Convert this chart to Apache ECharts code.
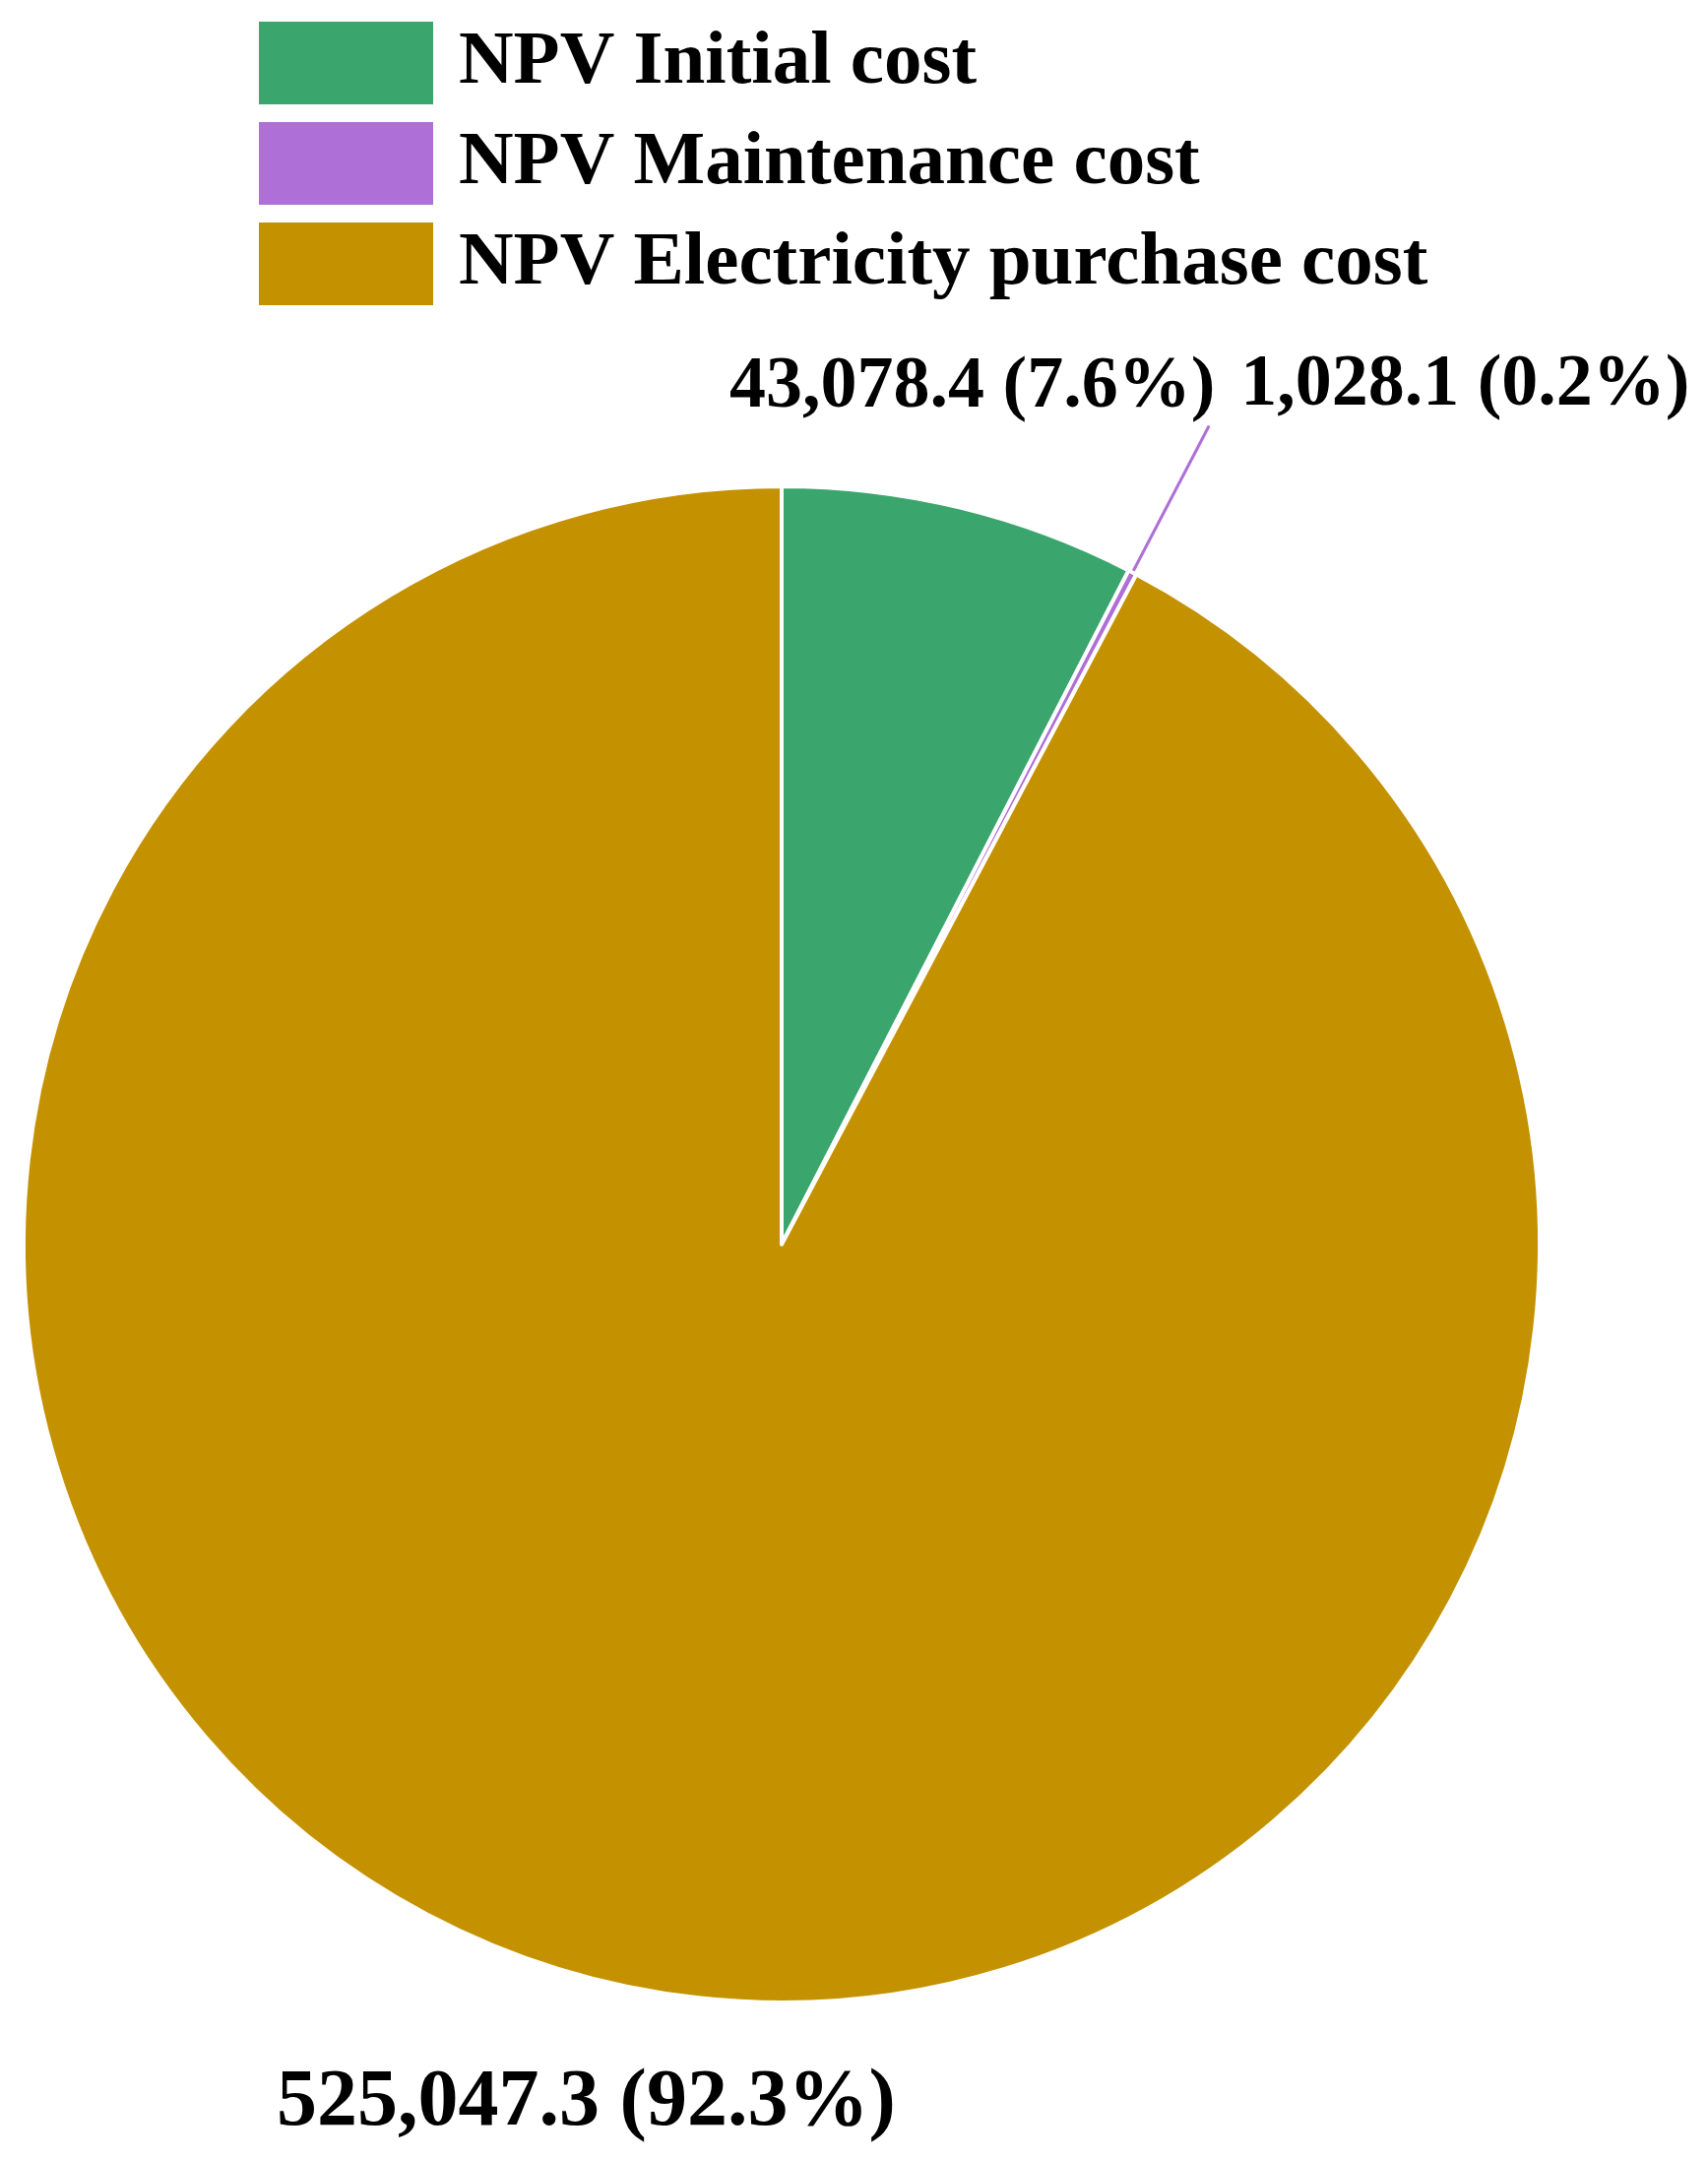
<!DOCTYPE html>
<html>
<head>
<meta charset="utf-8">
<script src="https://cdn.jsdelivr.net/npm/echarts@6/dist/echarts.min.js"></script>
<style>
  html, body { margin: 0; padding: 0; background: #fff; }
  #main { width: 1735px; height: 2193px; }
</style>
</head>
<body>
<div id="main"></div>
<script>
// data
var categories = ['NPV Initial cost', 'NPV Maintenance cost', 'NPV Electricity purchase cost'];
var values = [43078.4, 1028.1, 525047.3];
var colors = ['#3aa66d', '#ae6fd7', '#c49100'];

var total = 0;
for (var i = 0; i < values.length; i++) total += values[i];

// pie geometry (px)
var CX = 794, CY = 1264, R = 768;

function midAngle(idx) {
    var before = 0;
    for (var j = 0; j < idx; j++) before += values[j];
    return (before + values[idx] / 2) / total * 2 * Math.PI;
}

function fmt(v) {
    return v.toLocaleString('en-US', { minimumFractionDigits: 1, maximumFractionDigits: 1 }) +
        ' (' + (v / total * 100).toFixed(1) + '%)';
}

var seriesData = [];
for (var k = 0; k < categories.length; k++) {
    seriesData.push({
        name: categories[k],
        value: values[k],
        itemStyle: { color: colors[k] },
        label: { fontSize: k === 2 ? 82 : 74 },
        labelLine: { show: k === 1, lineStyle: { color: colors[k], width: 3 } }
    });
}

var myChart = echarts.init(document.getElementById('main'));

var option = {
    backgroundColor: '#ffffff',
    animation: false,
    legend: {
        orient: 'vertical',
        left: 258,
        top: 17,
        itemWidth: 177,
        itemHeight: 84,
        itemGap: 18,
        icon: 'rect',
        itemStyle: { borderWidth: 0 },
        textStyle: {
            fontFamily: 'Liberation Serif',
            fontWeight: 'bold',
            fontSize: 77,
            color: '#000',
            padding: [7, 0, 0, 21]
        },
        data: categories
    },
    series: [
        {
            type: 'pie',
            center: [CX, CY],
            radius: R + 2,
            startAngle: 90,
            clockwise: true,
            avoidLabelOverlap: false,
            itemStyle: { borderColor: '#ffffff', borderWidth: 4 },
            label: {
                show: true,
                position: 'outside',
                width: 800,
                overflow: 'none',
                fontFamily: 'Liberation Serif',
                fontWeight: 'bold',
                color: '#000',
                formatter: function (p) { return fmt(p.value); }
            },
            labelLayout: function (p) {
                var a = midAngle(p.dataIndex);
                if (p.dataIndex === 1) {
                    var s = Math.sin(a), c = Math.cos(a);
                    var x1 = CX + R * s, y1 = CY - R * c;
                    var x2 = CX + (R + 170) * s, y2 = CY - (R + 170) * c;
                    return {
                        x: x2 + 32, y: 392,
                        align: 'left', verticalAlign: 'middle',
                        labelLinePoints: [[x1, y1], [x2, y2], [x2, y2]]
                    };
                }
                var a2 = a - 1.1 * Math.PI / 180;
                return {
                    x: CX + 893 * Math.sin(a2),
                    y: CY - 893 * Math.cos(a2) + 2,
                    align: 'center', verticalAlign: 'middle'
                };
            },
            data: seriesData
        }
    ]
};
myChart.setOption(option);
</script>
</body>
</html>
